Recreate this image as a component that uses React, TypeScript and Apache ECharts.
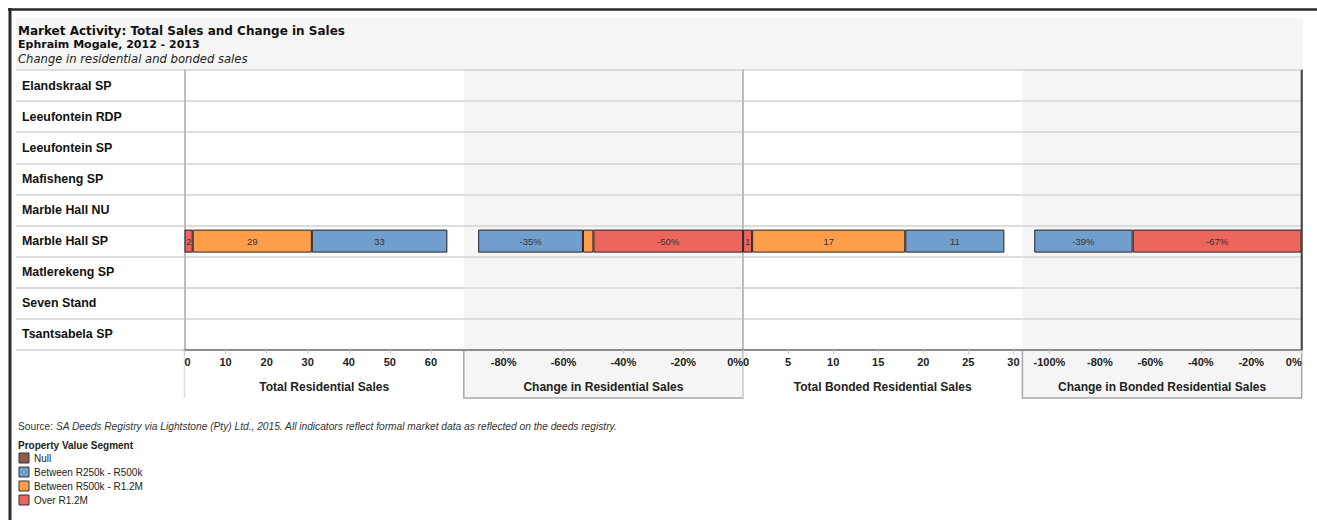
import React, { useEffect, useRef } from "react";
import * as echarts from "echarts";

// ---------- data ----------
const places = [
  "Elandskraal SP",
  "Leeufontein RDP",
  "Leeufontein SP",
  "Mafisheng SP",
  "Marble Hall NU",
  "Marble Hall SP",
  "Matlerekeng SP",
  "Seven Stand",
  "Tsantsabela SP",
];

const segments = ["Null", "Between R250k - R500k", "Between R500k - R1.2M", "Over R1.2M"];
const segmentColors = ["#8E5B4C", "#729ECE", "#FF9E4A", "#ED665D"];

const N = null;
// Total Residential Sales (count)
const totalResNull = [N, N, N, N, N, N, N, N, N];
const totalResR250k = [N, N, N, N, N, 33, N, N, N];
const totalResR500k = [N, N, N, N, N, 29, N, N, N];
const totalResOver = [N, N, N, N, N, 2, N, N, N];

// Change in Residential Sales (%)
const chgResNull = [N, N, N, N, N, N, N, N, N];
const chgResR250k = [N, N, N, N, N, -35, N, N, N];
const chgResR500k = [N, N, N, N, N, -3.5, N, N, N];
const chgResOver = [N, N, N, N, N, -50, N, N, N];

// Total Bonded Residential Sales (count)
const totalBondNull = [N, N, N, N, N, N, N, N, N];
const totalBondR250k = [N, N, N, N, N, 11, N, N, N];
const totalBondR500k = [N, N, N, N, N, 17, N, N, N];
const totalBondOver = [N, N, N, N, N, 1, N, N, N];

// Change in Bonded Residential Sales (%)
const chgBondNull = [N, N, N, N, N, N, N, N, N];
const chgBondR250k = [N, N, N, N, N, -39, N, N, N];
const chgBondR500k = [N, N, N, N, N, N, N, N, N];
const chgBondOver = [N, N, N, N, N, -67, N, N, N];

const panelTitles = [
  "Total Residential Sales",
  "Change in Residential Sales",
  "Total Bonded Residential Sales",
  "Change in Bonded Residential Sales",
];

// per panel: [Null, R250k, R500k, Over]
const panelData = [
  [totalResNull, totalResR250k, totalResR500k, totalResOver],
  [chgResNull, chgResR250k, chgResR500k, chgResOver],
  [totalBondNull, totalBondR250k, totalBondR500k, totalBondOver],
  [chgBondNull, chgBondR250k, chgBondR500k, chgBondOver],
];
const panelIsPct = [false, true, false, true];
const panelMin = [0, -93.3, 0, -110.7];
const panelMax = [68, 0, 31, 0];

const sourceLead = "Source: ";
const sourceText =
  "SA Deeds Registry via Lightstone (Pty) Ltd., 2015. All indicators reflect formal market data as reflected on the deeds registry.";
const titleText = "Market Activity: Total Sales and Change in Sales";
const subtitleText = "Ephraim Mogale, 2012 - 2013";
const captionText = "Change in residential and bonded sales";
const legendTitle = "Property Value Segment";

// ---------- layout ----------
const ARIAL = "'Liberation Sans', Arial, sans-serif";
const TAHOMA = "'DejaVu Sans', Verdana, sans-serif";
const PANEL_LEFT = 184.5;
const PANEL_W = 279.3;
const TOP = 70;
const HEIGHT = 280;
const AXIS_BOTTOM = 398;
const PANEL_BG = ["#ffffff", "#f5f5f5", "#ffffff", "#f5f5f5"];

function buildOption() {
  const grids: any[] = [];
  const xAxes: any[] = [];
  const yAxes: any[] = [];
  const series: any[] = [];

  for (let p = 0; p < 4; p++) {
    const pct = panelIsPct[p];
    grids.push({
      left: PANEL_LEFT + p * PANEL_W,
      top: TOP,
      width: PANEL_W,
      height: HEIGHT,
      show: true,
      backgroundColor: PANEL_BG[p],
      borderWidth: 0,
    });
    xAxes.push({
      type: "value",
      gridIndex: p,
      min: panelMin[p],
      max: panelMax[p],
      splitNumber: pct ? 5 : 6,
      name: panelTitles[p],
      nameLocation: "middle",
      nameGap: 31,
      nameTextStyle: { fontFamily: ARIAL, fontWeight: "bold", fontSize: 12, color: "#222" },
      axisLine: { show: true, lineStyle: { color: "#8c8c8c", width: 2 } },
      axisTick: { show: true, length: 4, lineStyle: { color: "#cccccc" } },
      splitLine: { show: false },
      axisLabel: {
        fontFamily: ARIAL,
        fontWeight: "bold",
        fontSize: 11,
        color: "#222",
        margin: 6,
        showMinLabel: pct ? false : true,
        showMaxLabel: pct ? true : false,
        alignMinLabel: pct ? undefined : "left",
        alignMaxLabel: pct ? "right" : undefined,
        formatter: (v: number) => (pct ? `${Math.round(v)}%` : `${v}`),
      },
    });
    yAxes.push({
      type: "category",
      gridIndex: p,
      data: places,
      inverse: true,
      axisLabel: { show: false },
      axisTick: { show: false },
      axisLine: { show: true, lineStyle: { color: "#bdbdbd", width: 2 } },
      splitLine: { show: true, interval: 0, lineStyle: { color: "#dddddd", width: 2 } },
    });

    // stacking order: nearest zero first
    const order = [3, 2, 1, 0];
    for (const s of order) {
      const vals = panelData[p][s];
      series.push({
        type: "bar",
        name: segments[s],
        xAxisIndex: p,
        yAxisIndex: p,
        stack: "p" + p,
        barWidth: 23,
        itemStyle: { color: segmentColors[s], borderColor: "#222", borderWidth: 1 },
        label: {
          show: true,
          position: "inside",
          fontFamily: ARIAL,
          fontSize: 9.5,
          color: "#333",
          formatter: (prm: any) =>
            pct ? `${Math.round(prm.value)}%` : `${prm.value}`,
        },
        data: vals.map((v) =>
          v === null
            ? null
            : pct && Math.abs(v) < 5
            ? { value: v, label: { show: false } }
            : v
        ),
      });
    }
  }

  // row label column
  grids.push({
    left: 16,
    top: TOP,
    width: PANEL_LEFT - 16,
    height: HEIGHT,
    show: true,
    backgroundColor: "#ffffff",
    borderWidth: 0,
  });
  xAxes.push({ type: "value", gridIndex: 4, show: false });
  yAxes.push({
    type: "category",
    gridIndex: 4,
    data: places,
    inverse: true,
    axisLine: { show: false },
    axisTick: { show: false },
    splitLine: { show: true, interval: 0, lineStyle: { color: "#dddddd", width: 2 } },
    axisLabel: {
      inside: true,
      interval: 0,
      margin: 6,
      fontFamily: ARIAL,
      fontWeight: "bold",
      fontSize: 12.4,
      color: "#111",
    },
  });

  const graphics: any[] = [
    // outer frame
    { type: "line", z: 10, shape: { x1: 8, y1: 9.5, x2: 1317, y2: 9.5 }, style: { stroke: "#2a2a2a", lineWidth: 2.5 } },
    { type: "line", z: 10, shape: { x1: 10, y1: 8, x2: 10, y2: 520 }, style: { stroke: "#2a2a2a", lineWidth: 3 } },
    // header band
    { type: "rect", z: -5, shape: { x: 16, y: 18, width: 1303 - 16, height: TOP - 18 }, style: { fill: "#f5f5f5" } },
    { type: "text", x: 18, y: 31, style: { text: titleText, font: `bold 12px ${TAHOMA}`, fill: "#111", verticalAlign: "middle" } },
    { type: "text", x: 18, y: 44.5, style: { text: subtitleText, font: `bold 11px ${TAHOMA}`, fill: "#111", verticalAlign: "middle" } },
    { type: "text", x: 18, y: 58.5, style: { text: captionText, font: `italic 11.6px ${TAHOMA}`, fill: "#222", verticalAlign: "middle" } },
    // right edge of last panel
    { type: "line", z: 10, shape: { x1: PANEL_LEFT + 4 * PANEL_W, y1: TOP, x2: PANEL_LEFT + 4 * PANEL_W, y2: TOP + HEIGHT }, style: { stroke: "#444", lineWidth: 2 } },
    // source + legend title
    {
      type: "text",
      x: 18,
      y: 426,
      style: {
        text: `{a|${sourceLead}}{b|${sourceText}}`,
        verticalAlign: "middle",
        rich: {
          a: { fontFamily: ARIAL, fontSize: 10.2, fill: "#333", color: "#333" },
          b: { fontFamily: ARIAL, fontSize: 10.2, fontStyle: "italic", fill: "#333", color: "#333" },
        },
      },
    },
    { type: "text", x: 18, y: 445, style: { text: legendTitle, font: `bold 10px ${ARIAL}`, fill: "#222", verticalAlign: "middle" } },
  ];

  // axis area boxes
  for (let p = 0; p < 4; p++) {
    const x0 = PANEL_LEFT + p * PANEL_W;
    if (panelIsPct[p]) {
      graphics.push({
        type: "rect",
        z: -5,
        shape: { x: x0, y: TOP + HEIGHT, width: PANEL_W, height: AXIS_BOTTOM - TOP - HEIGHT },
        style: { fill: "#f5f5f5", stroke: "#a8a8a8", lineWidth: 1.5 },
      });
    } else {
      graphics.push({
        type: "line",
        z: -5,
        shape: { x1: x0, y1: TOP + HEIGHT, x2: x0, y2: AXIS_BOTTOM },
        style: { stroke: "#dddddd", lineWidth: 1.5 },
      });
    }
  }

  return {
    animation: false,
    backgroundColor: "#ffffff",
    grid: grids,
    xAxis: xAxes,
    yAxis: yAxes,
    series,
    legend: {
      data: segments,
      orient: "vertical",
      left: 18.5,
      top: 452,
      padding: 0,
      itemWidth: 10,
      itemHeight: 10,
      itemGap: 2,
      icon: "rect",
      selectedMode: false,
      itemStyle: { borderColor: "#333", borderWidth: 1 },
      textStyle: { fontFamily: ARIAL, fontSize: 10, lineHeight: 12, color: "#222" },
    },
    graphic: graphics,
  };
}

export default function App() {
  const ref = useRef<HTMLDivElement>(null);
  useEffect(() => {
    if (!ref.current) return;
    const chart = echarts.init(ref.current, null, { renderer: "svg" });
    chart.setOption(buildOption() as any);
    return () => chart.dispose();
  }, []);
  return (
    <div
      ref={ref}
      style={{ position: "absolute", left: 0, top: 0, width: 1317, height: 520, background: "#fff" }}
    />
  );
}
